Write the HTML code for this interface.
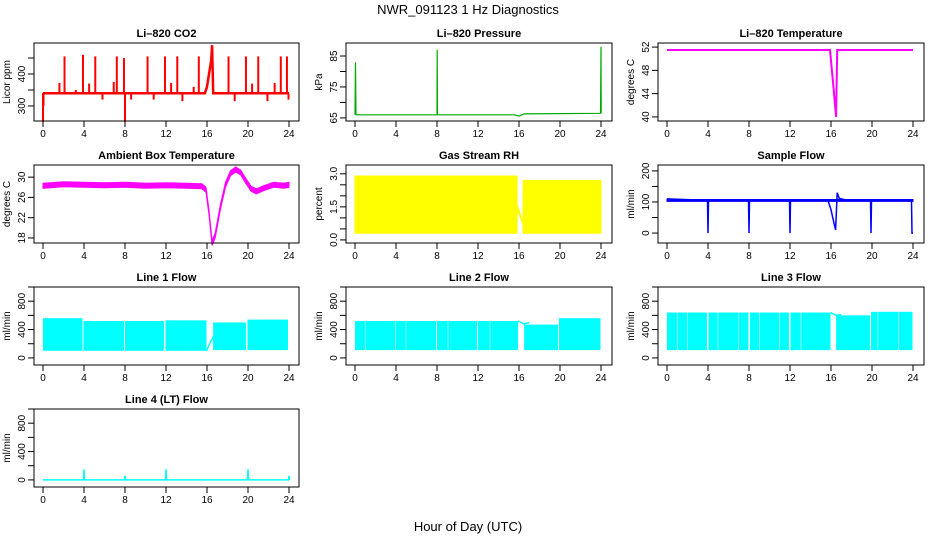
<!DOCTYPE html>
<html><head><meta charset="utf-8">
<style>
html,body{margin:0;padding:0;background:#fff;}
svg{display:block;font-family:"Liberation Sans",sans-serif;}
</style></head>
<body>
<svg id="chart" width="936" height="540" viewBox="0 0 936 540">
<text x="468" y="14" text-anchor="middle" font-size="13">NWR_091123  1 Hz Diagnostics</text>
<text x="468" y="531" text-anchor="middle" font-size="13">Hour of Day (UTC)</text>
</svg>
<script>
// ---- data arrays ----
const xTicks = [0,4,8,12,16,20,24];
// CO2
const co2Hours = [0,0.05,0.1,1.6,2.1,3.2,3.9,4.5,5.1,5.8,6.9,7.2,7.9,8.0,8.6,10.2,10.8,11.9,12.5,13.1,13.6,14.7,15.2,18.1,18.7,19.8,20.4,21.0,21.9,22.6,23.2,23.8,23.95];
const co2Spike = [250,300,335,372,455,350,460,370,455,320,375,455,450,250,320,455,320,455,372,455,315,360,455,455,315,455,370,455,315,372,455,455,320];
const co2BaseHours = [0,15.8,16.0,16.2,16.4,16.5,16.6,24];
const co2Base = [340,340,360,400,440,490,340,340];
// Pressure
const presHours = [0,0.05,0.1,8.0,8.02,8.05,15.5,16.0,16.5,23.95,24.0,24.02];
const presVals = [66,83,66,66,87,66,66,65.6,66.3,66.5,88,66.5];
// Li-820 temperature
const tempHours = [0,15.9,16.2,16.5,16.6,24];
const tempVals = [51.5,51.5,46,40,51.5,51.5];
// Ambient box temperature
const ambHours = [0,2,4,6,8,10,12,14,15.5,15.9,16.2,16.5,16.8,17.3,17.8,18.3,18.8,19.3,19.8,20.3,20.8,21.5,22.5,23.5,24];
const ambVals = [28.3,28.6,28.5,28.4,28.5,28.3,28.4,28.3,28.2,27.5,23,17,18.5,24,28.5,30.8,31.5,30.9,29.2,27.7,27.2,27.8,28.5,28.3,28.5];
// RH band
const rhHours = [0,15.8,15.81,16.4,16.41,24];
const rhLo = [0.3,0.3,1.4,0.7,0.3,0.3];
const rhHi = [2.9,2.9,1.6,0.8,2.7,2.7];
const rhCoreLo = [0.6,0.6,1.4,0.7,0.6,0.6];
const rhCoreHi = [2.5,2.5,1.6,0.8,2.4,2.4];
// Sample flow
const sfHours = [0,0.05,3.95,4.0,4.05,7.95,8.0,8.05,11.95,12.0,12.05,15.7,16.0,16.3,16.45,16.6,16.8,17.5,19.85,19.9,19.95,23.85,23.9,24.0];
const sfVals = [105,110,105,0,105,105,0,105,105,0,105,105,75,30,10,130,112,106,105,0,105,105,0,0];
// Line flows (band segments: start, end, low, high)
const l1Start = [0,3.95,8.0,11.95,16.6,19.95];
const l1End = [3.85,7.9,11.8,15.95,19.8,23.9];
const l1Lo = [100,100,100,100,110,110];
const l1Hi = [560,520,520,530,500,540];
const l2Start = [0,1.05,3.95,5.0,8.0,9.1,12.0,13.2,16.5,19.9];
const l2End = [1.0,3.9,4.95,7.9,9.05,11.9,13.15,15.9,19.8,23.95];
const l2Lo = [110,110,110,110,110,110,110,110,110,110];
const l2Hi = [520,520,520,520,520,520,520,520,470,560];
const l3Start = [0,1.05,2.0,4.05,5.0,7.0,8.1,9.05,11.0,12.05,13.1,16.5,19.9,20.6,22.6];
const l3End = [1.0,1.95,3.9,4.95,6.95,7.95,9.0,10.95,11.9,13.05,15.95,19.8,20.55,22.55,23.95];
const l3Lo = [110,110,110,110,110,110,110,110,110,110,110,110,110,110,110];
const l3Hi = [640,640,640,640,640,640,640,640,640,640,640,600,650,650,650];
const l4Hours = [0,3.95,4.0,4.05,7.95,8.0,8.05,11.95,12.0,12.05,19.95,20.0,20.05,23.95,24.0,24.05];
const l4Vals = [0,0,150,0,0,60,0,0,150,0,0,150,0,0,60,0];

const svg = document.getElementById('chart');
const NS = 'http://www.w3.org/2000/svg';
function mk(tag, attrs, parent){const e=document.createElementNS(NS,tag);for(const k in attrs)e.setAttribute(k,attrs[k]);(parent||svg).appendChild(e);return e;}

const colX = [[34,299,43,289],[346,612,355,601],[658,924,667,913]];
const rowY = [[43,121],[165,243],[287,365],[409,487]];

function panel(name, col, row, title, ylab, ymin, ymax, ticks, labels){
  const [bx0,bx1,h0,h24]=colX[col]; const [by0,by1]=rowY[row];
  const g = mk('g',{});
  
  
  const sx = h => h0 + (h/24)*(h24-h0);
  const sy = v => by1 - (v-ymin)/(ymax-ymin)*(by1-by0);
  const t = mk('text',{x:(bx0+bx1)/2,y:by0-6,'text-anchor':'middle','font-size':'11','font-weight':'bold'},g);
  t.textContent = title;
  
  
  const yl = mk('text',{x:0,y:0,'text-anchor':'middle','font-size':'10',transform:`translate(${bx0-24},${(by0+by1)/2}) rotate(-90)`},g);
  yl.textContent = ylab;
  
  
  xTicks.forEach(h=>{
    mk('line',{x1:sx(h),x2:sx(h),y1:by1,y2:by1+6,stroke:'#000','stroke-width':1},g);
    const tl = mk('text',{x:sx(h),y:by1+16,'text-anchor':'middle','font-size':'10'},g);
    tl.textContent = h;
    
    
  });
  ticks.forEach((v,i)=>{
    mk('line',{x1:bx0-6,x2:bx0,y1:sy(v),y2:sy(v),stroke:'#000','stroke-width':1},g);
    if(labels[i]!==''){
      const tl = mk('text',{x:0,y:0,'text-anchor':'middle','font-size':'10',transform:`translate(${bx0-9},${sy(v)}) rotate(-90)`},g);
      tl.textContent = labels[i];
      
      
    }
  });
  const plot = mk('g',{},g);
  
  
  const box = mk('rect',{x:bx0,y:by0,width:bx1-bx0,height:by1-by0,fill:'none',stroke:'#000','stroke-width':1},g);
  
  
  return {sx,sy,plot};
}
function line(p,hs,vs,color,w){
  const d = hs.map((h,i)=>(i?'L':'M')+p.sx(h).toFixed(1)+','+p.sy(vs[i]).toFixed(1)).join('');
  const e = mk('path',{d,fill:'none',stroke:color,'stroke-width':w||1.5},p.plot);
  
  
}
function band(p,hs,lo,hi,color){
  let d='M'+hs.map((h,i)=>p.sx(h).toFixed(1)+','+p.sy(hi[i]).toFixed(1)).join('L');
  for(let i=hs.length-1;i>=0;i--) d+='L'+p.sx(hs[i]).toFixed(1)+','+p.sy(lo[i]).toFixed(1);
  const e = mk('path',{d:d+'Z',fill:color,stroke:color,'stroke-width':1},p.plot);
  
  
}
function blocks(p,st,en,lo,hi,color){
  st.forEach((s,i)=>{
    const e = mk('rect',{x:p.sx(s),y:p.sy(hi[i]),width:p.sx(en[i])-p.sx(s),height:p.sy(lo[i])-p.sy(hi[i]),fill:color},p.plot);
    
    
  });
}

let p = panel('co2',0,0,'Li\u2013820 CO2','Licor ppm',253,497,[300,350,400,450],['300','','400','']);
line(p,co2BaseHours,co2Base,'#f00',2.5);
co2Hours.forEach((h,i)=>{
  const e = mk('line',{x1:p.sx(h),x2:p.sx(h),y1:p.sy(340),y2:p.sy(co2Spike[i]),stroke:'#f00','stroke-width':2},p.plot);
  
  
});
p = panel('pressure',1,0,'Li\u2013820 Pressure','kPa',64,89.2,[65,70,75,80,85],['65','','75','','85']);
line(p,presHours,presVals,'#0a0',1.2);
p = panel('li820-temp',2,0,'Li\u2013820 Temperature','degrees C',39.3,52.7,[40,44,48,52],['40','44','48','52']);
line(p,tempHours,tempVals,'#f0f',2);
p = panel('ambient-temp',0,1,'Ambient Box Temperature','degrees C',17,32.4,[18,22,26,30],['18','22','26','30']);
band(p,ambHours,ambVals.map(v=>v-0.5),ambVals.map(v=>v+0.5),'#f0f');
p = panel('gas-rh',1,1,'Gas Stream RH','percent',-0.14,3.4,[0,0.5,1,1.5,2,2.5,3],['0.0','','','1.5','','','3.0']);
band(p,rhHours,rhLo,rhHi,'#ff0');
band(p,rhHours,rhCoreLo,rhCoreHi,'#ff0');
p = panel('sample-flow',2,1,'Sample Flow','ml/min',-32,219,[0,50,100,150,200],['0','','100','','200']);
line(p,sfHours,sfVals,'#00f',1.5);
band(p,[0,24],[102,102],[108,108],'#00f');
const fT=[0,200,400,600,800,1000], fL=['0','','400','','800',''];
p = panel('line1-flow',0,2,'Line 1 Flow','ml/min',-100,1000,fT,fL);
blocks(p,l1Start,l1End,l1Lo,l1Hi,'#0ff');
line(p,[15.95,16.1,16.6],[100,150,300],'#0ff',1.5);
p = panel('line2-flow',1,2,'Line 2 Flow','ml/min',-100,1000,fT,fL);
blocks(p,l2Start,l2End,l2Lo,l2Hi,'#0ff');
line(p,[15.9,16.5,17],[520,480,500],'#0ff',1.5);
p = panel('line3-flow',2,2,'Line 3 Flow','ml/min',-100,1000,fT,fL);
blocks(p,l3Start,l3End,l3Lo,l3Hi,'#0ff');
line(p,[15.95,16.5,17],[640,600,610],'#0ff',1.5);
p = panel('line4-flow',0,3,'Line 4 (LT) Flow','ml/min',-100,1000,fT,fL);
line(p,l4Hours,l4Vals,'#0ff',1.5);
</script>
</body></html>
